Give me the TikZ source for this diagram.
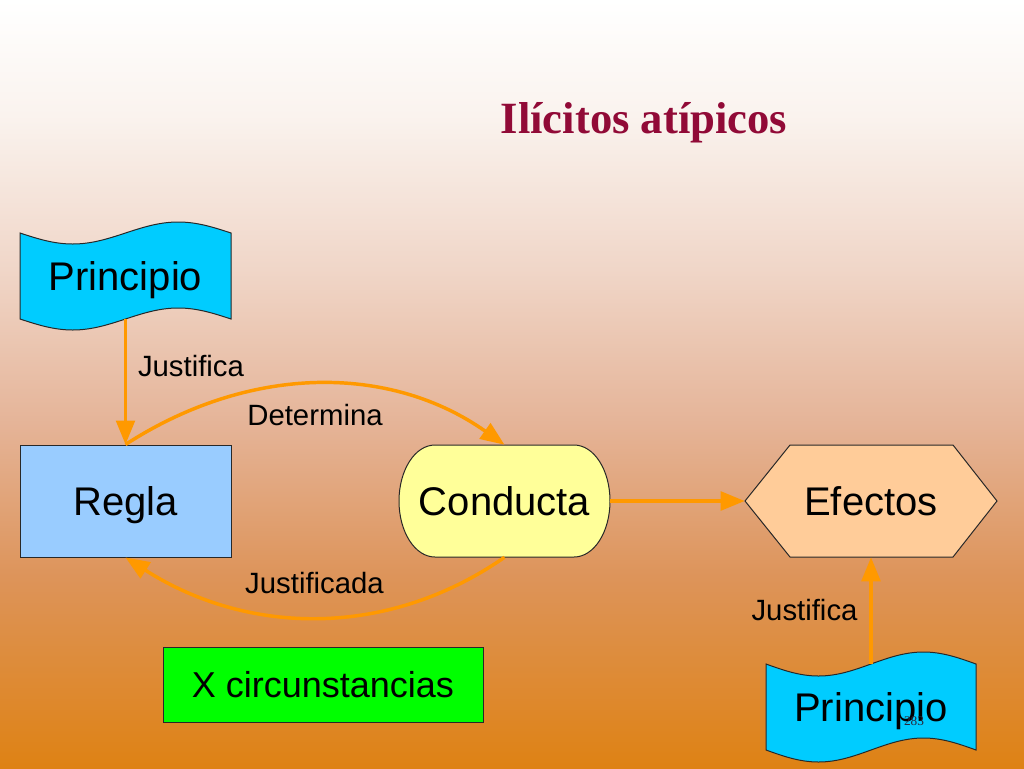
\documentclass[tikz,border=0pt]{standalone}
\usepackage{fontspec}
\setmainfont{Liberation Sans}
\newfontfamily\titlefont{Liberation Serif}
\usetikzlibrary{arrows.meta}
\definecolor{bgA}{RGB}{222,130,20}
\definecolor{bgB}{RGB}{221,148,90}
\definecolor{bgC}{RGB}{229,180,152}
\definecolor{bgD}{RGB}{240,214,200}
\definecolor{bgE}{RGB}{250,243,238}
\definecolor{bgF}{RGB}{255,255,255}
\definecolor{tapecyan}{RGB}{0,204,255}
\definecolor{reglablue}{RGB}{153,204,255}
\definecolor{condyellow}{RGB}{255,255,153}
\definecolor{efepeach}{RGB}{255,204,153}
\definecolor{circgreen}{RGB}{0,255,0}
\definecolor{arroworange}{RGB}{255,153,0}
\definecolor{titlered}{RGB}{145,10,55}
\definecolor{edgegray}{RGB}{40,40,40}
\definecolor{numgray}{RGB}{40,40,60}
\pgfdeclareverticalshading{slidebg}{100bp}{color(0bp)=(bgA); color(25bp)=(bgA); color(37.5bp)=(bgB); color(47.5bp)=(bgC); color(57.5bp)=(bgD); color(67.5bp)=(bgE); color(75bp)=(bgF); color(100bp)=(bgF)}
\begin{document}
\begin{tikzpicture}[x=0.75pt,y=-0.75pt,
  outline/.style={draw=edgegray, line width=0.75pt},
  bigtext/.style={inner sep=0pt, font=\fontsize{30}{36}\selectfont, text height=21.5pt, text depth=0pt},
  wide/.style={minimum width=158.25pt, minimum height=84pt},
  conn/.style={draw=arroworange, line width=2.6pt, -{Triangle[length=18pt,width=14pt]}},
  edgelabel/.style={inner sep=0pt, font=\fontsize{22}{26}\selectfont, text height=15.75pt, text depth=0pt}
]
\useasboundingbox (0,0) rectangle (1024,768);
\shade[shading=slidebg] (0,0) rectangle (1024,768);

% title
\node[inner sep=0pt, font=\titlefont\bfseries\fontsize{33.5}{40}\selectfont, text=titlered, text height=22.2pt, text depth=0pt] (title) at (644,119) {Ilícitos atípicos};

% top Principio (punched tape)
\path[outline, fill=tapecyan] (20,233) sin (72.75,244) cos (125.5,233) sin (178.25,222) cos (231,233)
  -- (231,319) sin (178.25,308) cos (125.5,319) sin (72.75,330) cos (20,319) -- cycle;
\node[bigtext, minimum width=158.25pt, minimum height=64.5pt] (p1) at (125.5,276) {Principio};

% Regla
\node[bigtext, wide, outline, fill=reglablue] (regla) at (125.5,501) {Regla};

% Conducta (terminator)
\path[outline, fill=condyellow] (435,445) -- (574,445) .. controls (594,445) and (610,470) .. (610,501)
  .. controls (610,532) and (594,557) .. (574,557) -- (435,557)
  .. controls (415,557) and (399,532) .. (399,501) .. controls (399,470) and (415,445) .. (435,445) -- cycle;
\node[bigtext, wide] (cond) at (504.5,501) {Conducta};

% Efectos (hexagon)
\path[outline, fill=efepeach] (745,501) -- (790,445) -- (953,445) -- (997,501) -- (953,557) -- (790,557) -- cycle;
\node[bigtext, minimum width=189pt, minimum height=84pt] (efe) at (871,501) {Efectos};

% X circunstancias
\node[inner sep=0pt, outline, fill=circgreen, minimum width=240pt, minimum height=56.25pt,
  font=\fontsize{27}{32}\selectfont, text height=19.3pt, text depth=0pt] (circ) at (323,684.5) {X circunstancias};

% bottom Principio (punched tape)
\path[outline, fill=tapecyan] (766,664) sin (818.5,676) cos (871,664) sin (923.5,652) cos (976,664)
  -- (976,750) sin (923.5,738) cos (871,750) sin (818.5,762) cos (766,750) -- cycle;
\node[bigtext, minimum width=157.5pt, minimum height=64.5pt] (p2) at (871,707) {Principio};

% connectors
\draw[conn] (p1.south) -- (regla.north);
\draw[conn] (regla.north) .. controls (250,364) and (390,364) .. (cond.north);
\draw[conn] (cond.south) .. controls (390,637) and (250,637) .. (regla.south);
\draw[conn] (cond.east) -- (efe.west);
\draw[conn] (p2.north) -- (efe.south);

% connector labels
\node[edgelabel] (lj1) at (191,366) {Justifica};
\node[edgelabel] (ldet) at (315,415) {Determina};
\node[edgelabel] (ljda) at (314.5,583) {Justificada};
\node[edgelabel] (lj2) at (804.5,610) {Justifica};

% slide number
\node[inner sep=0pt, font=\titlefont\fontsize{10}{12}\selectfont, text=numgray, text height=6.8pt, text depth=0pt] (pnum) at (914,720.5) {283};
\end{tikzpicture}
\end{document}
